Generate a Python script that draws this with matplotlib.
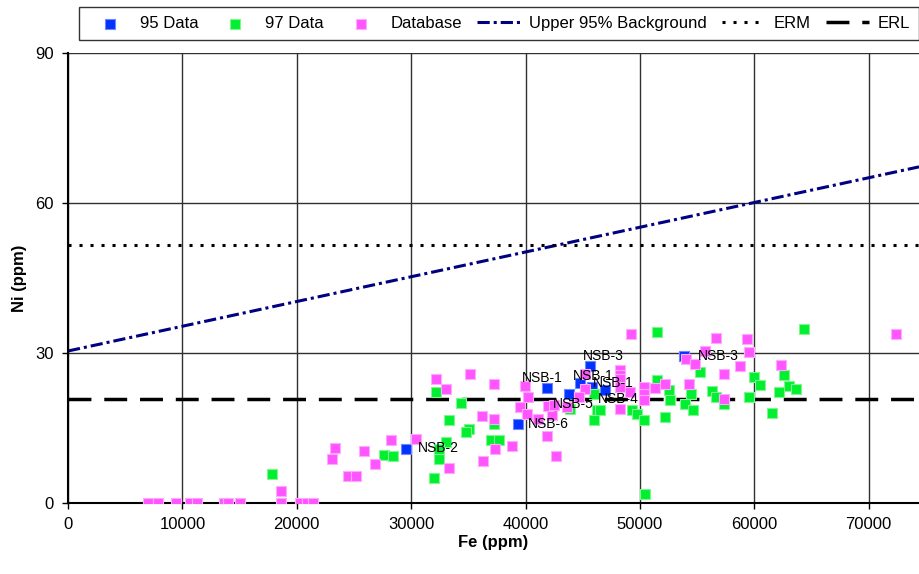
import matplotlib
matplotlib.use("Agg")
import matplotlib.pyplot as plt
import numpy as np

plt.rcParams['font.family'] = ['Liberation Sans', 'DejaVu Sans']

# 95 Data (blue, labelled)
fe_95 = [29540, 39310, 41880, 43830, 45670, 44790, 45840, 46980, 53890]
ni_95 = [10.9, 15.8, 23.1, 21.9, 27.5, 24.0, 23.2, 22.6, 29.4]
lab_95 = ['NSB-2', 'NSB-6', 'NSB-1', 'NSB-5', 'NSB-3', 'NSB-1', 'NSB-1', 'NSB-4', 'NSB-3']

# 97 Data (green)
fe_97 = [17870, 27590, 28400, 32170, 33270, 33040, 31960, 32400, 32400, 34380,
         37210, 35080, 34820, 36980, 37680, 43920, 45960, 46250, 46020, 46540,
         49320, 49750, 50330, 50480, 51500, 51500, 52520, 52610, 52170, 55290,
         54480, 53980, 54650, 56260, 56690, 57330, 59520, 59960, 60540, 61560,
         64330, 62640, 63020, 63660, 62140]
ni_97 = [5.9, 9.7, 9.5, 22.3, 16.6, 12.3, 5.1, 8.9, 10.9, 20.1,
         15.9, 14.9, 14.3, 12.6, 12.6, 18.9, 21.9, 18.6, 16.6, 18.6,
         18.7, 17.9, 16.7, 1.9, 34.3, 24.6, 22.6, 20.6, 17.3, 26.3,
         21.9, 19.8, 18.6, 22.4, 21.3, 19.9, 21.3, 25.3, 23.6, 18.1,
         34.9, 25.6, 23.4, 22.9, 22.3]

# Database (pink)
fe_db = [7000, 7900, 9400, 10700, 11300, 13600, 14000, 15000, 18600, 20300,
         20900, 21400, 18600, 23300, 23070, 25840, 28230, 26860, 24520, 25170,
         30450, 32170, 33040, 33300, 35170, 37210, 36190, 37210, 37300, 38820,
         36280, 39980, 40190, 39490, 40130, 41880, 41060, 42320, 42690, 41930,
         45230, 45230, 43630, 44650, 42460, 48230, 48290, 48260, 48230, 48290,
         49260, 50330, 50330, 50330, 49170, 51350, 52230, 56610, 59320, 59520,
         54070, 54860, 55730, 57330, 58730, 54270, 57330, 62350, 72350]
ni_db = [0, 0, 0, 0, 0, 0, 0, 0, 0, 0,
         0, 0, 2.4, 11.0, 8.9, 10.5, 12.7, 7.8, 5.4, 5.4,
         12.9, 24.9, 22.9, 7.1, 25.9, 23.9, 17.4, 16.9, 10.9, 11.4,
         8.5, 23.4, 21.3, 19.3, 17.9, 13.4, 16.9, 17.6, 9.4, 19.4,
         25.9, 22.9, 19.3, 21.3, 19.6, 26.6, 25.6, 24.9, 23.3, 18.9,
         33.9, 23.3, 21.9, 20.6, 22.3, 23.1, 23.9, 33.1, 32.9, 30.3,
         28.9, 27.9, 30.4, 25.9, 27.4, 23.9, 20.9, 27.6, 33.9]

# reference lines
bg_x = [0, 74400]
bg_y = [30.4, 30.4 + 0.000495 * 74400]
erm = 51.6
erl = 20.9

fig = plt.figure(figsize=(9.19, 5.74), dpi=100)
ax = fig.add_axes([68/919, 71/574, 851/919, 450/574])

ax.set_xlim(0, 74400)
ax.set_ylim(0, 90)
ax.set_xticks(np.arange(0, 70001, 10000))
ax.set_yticks([0, 30, 60, 90])
ax.grid(True, color='#303030', linewidth=1)
ax.set_axisbelow(True)
for s in ['top', 'right']:
    ax.spines[s].set_visible(False)
ax.spines['left'].set_linewidth(1.5)
ax.spines['bottom'].set_linewidth(1.5)
ax.tick_params(direction='out', length=4, width=1, labelsize=12, pad=6)

mk = dict(marker='s', s=52, linewidths=0.8)
ax.scatter(fe_95, ni_95, color='#0033FF', edgecolors='#6f86ff', label='95 Data', zorder=3, **mk)
ax.scatter(fe_97, ni_97, color='#00F030', edgecolors='#80f590', label='97 Data', zorder=3, **mk)
ax.scatter(fe_db, ni_db, color='#FF55FF', edgecolors='#ffaaff', label='Database', zorder=3, **mk)

ax.plot(bg_x, bg_y, color='#000080', linewidth=2.2, dashes=(4, 1.3, 1, 1.3),
        label='Upper 95% Background', zorder=2)
ax.axhline(erm, color='black', linewidth=2.2, dashes=(1, 2.6), label='ERM', zorder=2)
ax.axhline(erl, color='black', linewidth=2.5, dashes=(6.6, 3.7), label='ERL', zorder=2)

# label offsets in pixels (left edge of text, vertical centre)
offs = [(12, 0), (10, 0), (-25, 9), (-16, -10), (-8, 9), (-7, 7), (1, 4), (-7, -9), (13, 0)]
for x, y, t, o in zip(fe_95, ni_95, lab_95, offs):
    ax.annotate(t, (x, y), xytext=o, textcoords='offset pixels', fontsize=10,
                ha='left', va='center', zorder=5)

ax.set_xlabel('Fe (ppm)', fontsize=12, fontweight='bold', labelpad=2)
ax.set_ylabel('Ni (ppm)', fontsize=12, fontweight='bold', labelpad=6)

leg = fig.legend(loc='upper left', bbox_to_anchor=(79/919, 1 - 38/574, 840/919, 31/574),
                 mode='expand', ncol=6, fontsize=12, frameon=True, fancybox=False,
                 edgecolor='black', borderpad=0.55, handlelength=2.6, handletextpad=0.5,
                 borderaxespad=0, columnspacing=0.8)
leg.get_frame().set_linewidth(1)

fig.savefig('out.png', dpi=100)
